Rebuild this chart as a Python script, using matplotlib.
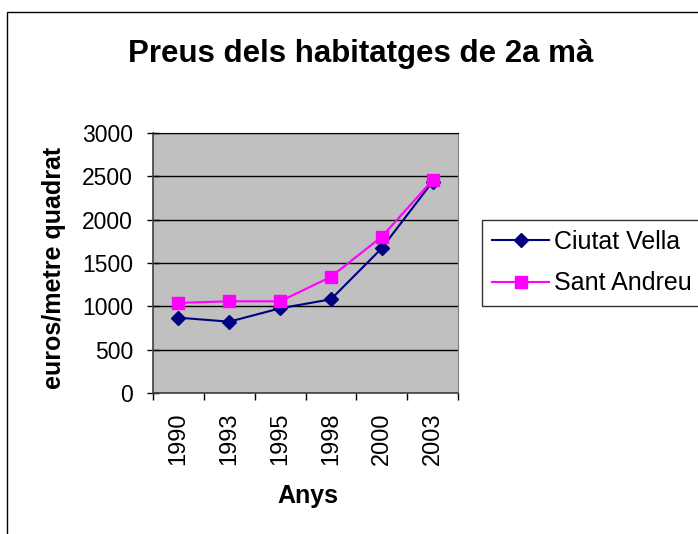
import matplotlib
matplotlib.use("Agg")
import matplotlib.pyplot as plt
from matplotlib.patches import Rectangle
import numpy as np

# Data
years = ["1990", "1993", "1995", "1998", "2000", "2003"]
ciutat_vella = [869, 823, 977, 1081, 1670, 2438]
sant_andreu = [1040, 1058, 1058, 1340, 1803, 2455]

plt.rcParams['font.family'] = ['Liberation Sans', 'DejaVu Sans']

fig = plt.figure(figsize=(6.98, 5.34), dpi=100)
ax = fig.add_axes([153 / 698, 1 - 393 / 534, 305 / 698, 260 / 534])
ax.set_facecolor('#C0C0C0')

x = np.arange(len(years))
ax.plot(x, ciutat_vella, color='#000080', marker='D', markersize=7.5,
        linewidth=1.5, label='Ciutat Vella', zorder=3)
ax.plot(x, sant_andreu, color='#FF00FF', marker='s', markersize=8,
        linewidth=1.5, label='Sant Andreu', zorder=3)

ax.set_xlim(-0.5, len(years) - 0.5)
ax.set_ylim(0, 3000)
ax.set_yticks(range(0, 3001, 500))
ax.yaxis.grid(True, color='black', linewidth=1)
ax.set_axisbelow(True)

# category labels centred, ticks at category boundaries
ax.set_xticks(x)
ax.set_xticklabels(years, rotation=90, fontsize=17)
ax.set_xticks(np.arange(-0.5, len(years), 1), minor=True)
ax.tick_params(axis='x', which='major', length=0, pad=14)
ax.tick_params(axis='x', which='minor', length=5, width=1, direction='out')
ax.tick_params(axis='y', labelsize=16.5, length=8.5, width=1, direction='inout', pad=10)

ax.spines['top'].set_color('black')
ax.spines['right'].set_color('#808080')
for s in ['left', 'bottom']:
    ax.spines[s].set_color('#404040')
    ax.spines[s].set_linewidth(1.2)

fig.text(308 / 698, 1 - 496 / 534, 'Anys', fontsize=18, fontweight='bold',
         ha='center', va='center')
fig.text(54 / 698, 1 - 268 / 534, 'euros/metre quadrat', fontsize=18,
         fontweight='bold', rotation=90, ha='center', va='center')
fig.text(361 / 698, 1 - 54 / 534, 'Preus dels habitatges de 2a mà',
         fontsize=22.5, fontweight='bold', ha='center', va='center')

leg = ax.legend(loc='upper left', bbox_to_anchor=(482 / 698, 1 - 220 / 534),
                bbox_transform=fig.transFigure, fontsize=18, frameon=True,
                fancybox=False, edgecolor='black', handlelength=2.3,
                borderpad=0.4, labelspacing=0.7, handletextpad=0.2,
                borderaxespad=0)
leg.get_frame().set_linewidth(1)

# outer chart border (cut off at right and bottom)
fig.patches.append(Rectangle((7 / 698, -0.05), 1.1, 1 - 12 / 534 + 0.05,
                             transform=fig.transFigure, fill=False,
                             edgecolor='black', linewidth=1))

fig.savefig('out.png', dpi=100)
